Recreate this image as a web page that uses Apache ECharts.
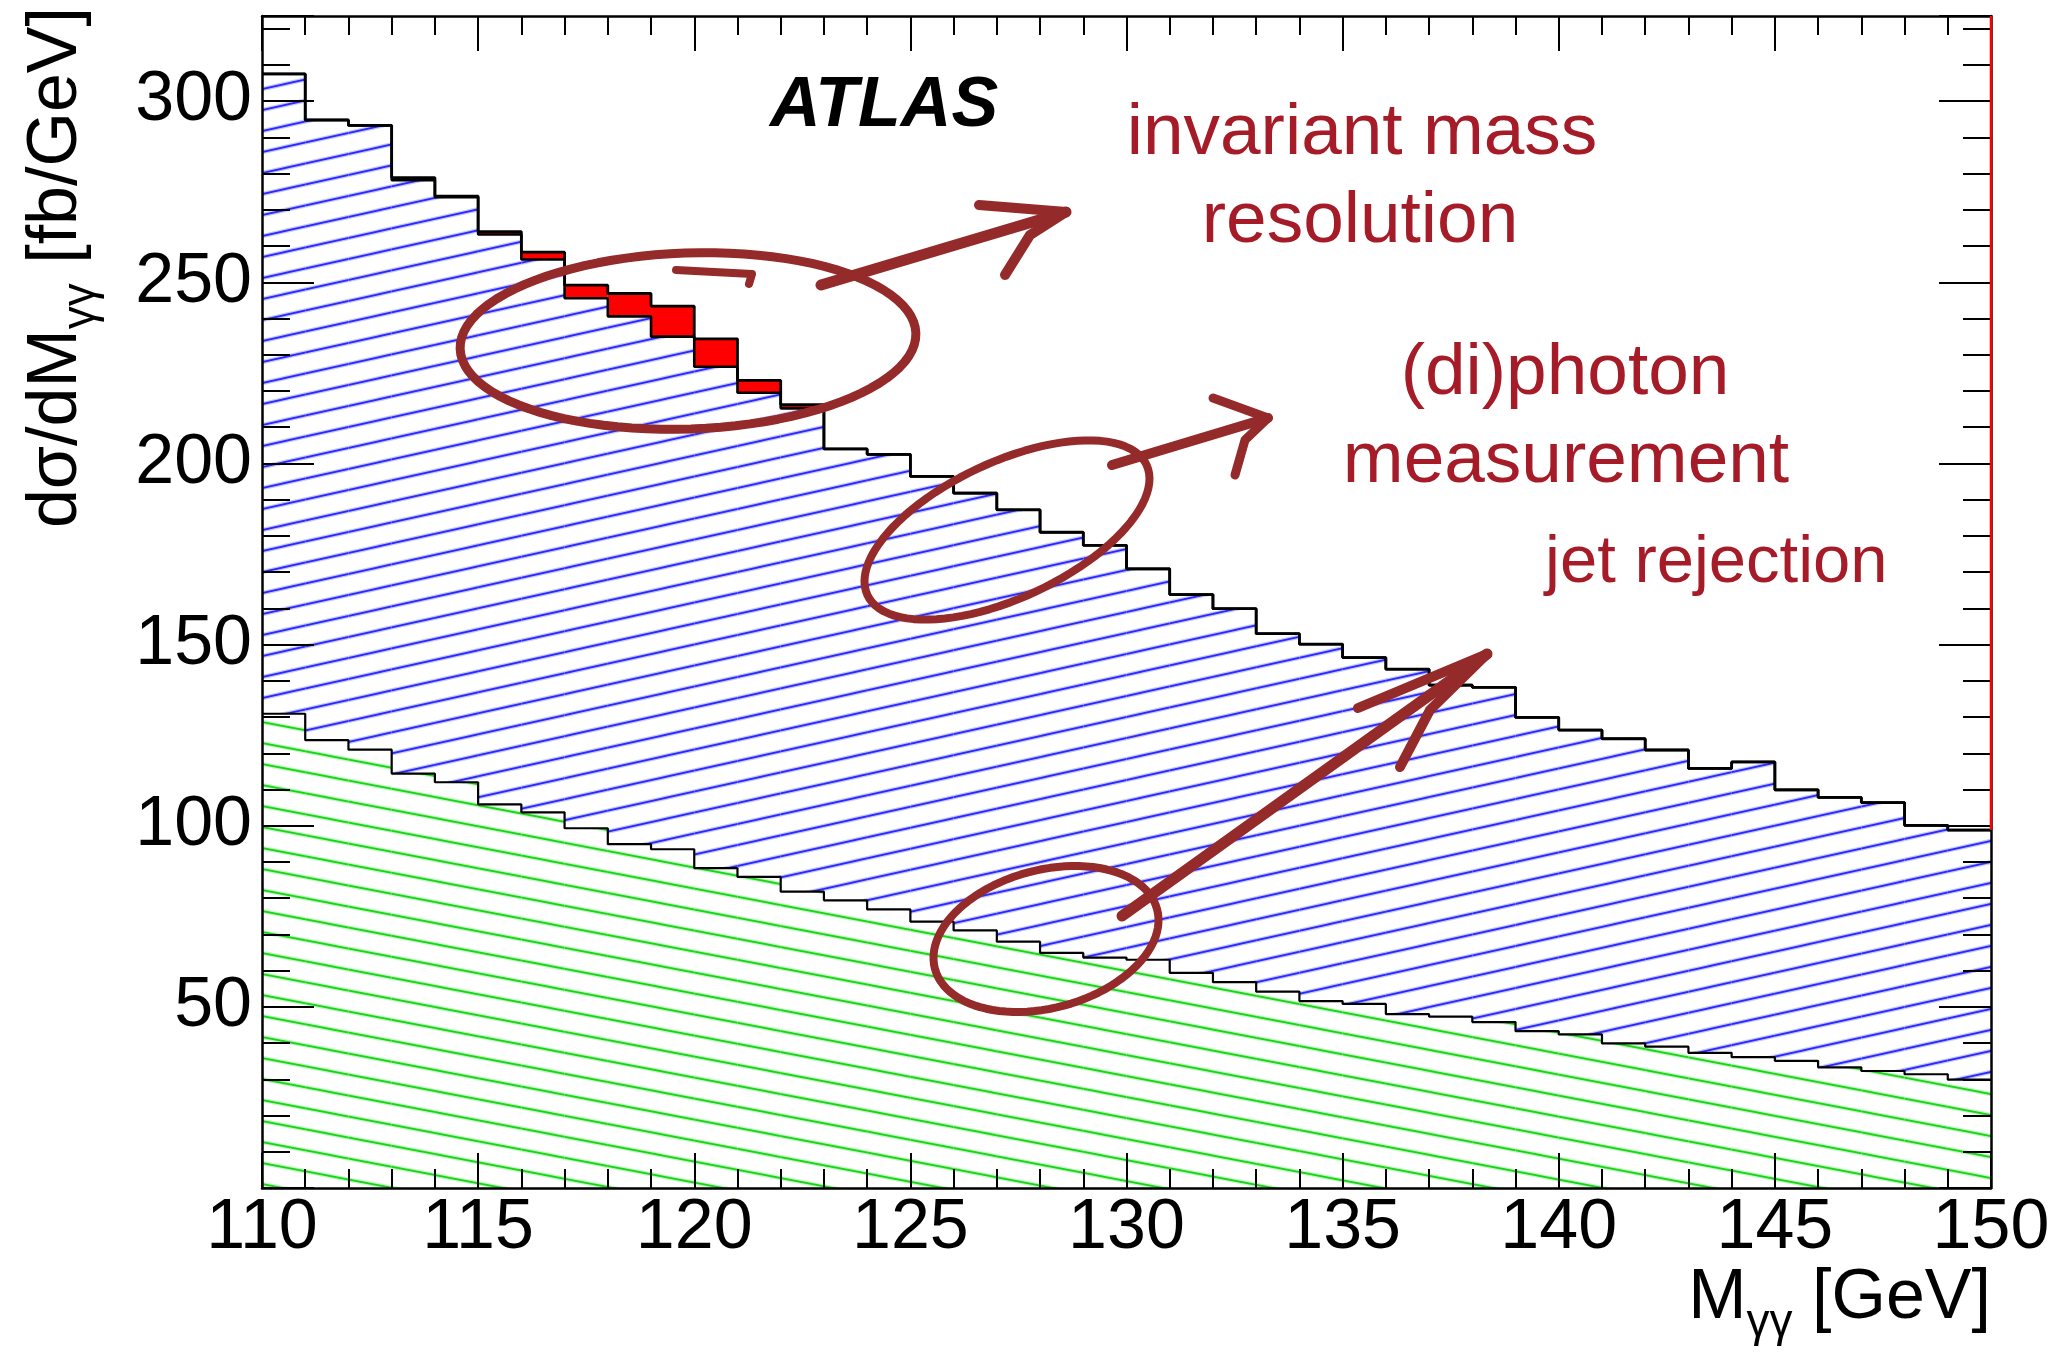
<!DOCTYPE html>
<html>
<head>
<meta charset="utf-8">
<script src="https://cdn.jsdelivr.net/npm/echarts@6/dist/echarts.min.js"></script>
<style>
html,body{margin:0;padding:0;background:#ffffff;}
#c{width:2051px;height:1352px;}
</style>
</head>
<body>
<div id="c"></div>
<script>
// ---------------- data ----------------
const binLow = [110,111,112,113,114,115,116,117,118,119,120,121,122,123,124,125,126,127,128,129,
                130,131,132,133,134,135,136,137,138,139,140,141,142,143,144,145,146,147,148,149];
const binWidth = 1;
// reducible background (green hatched), fb/GeV
const reducible = [130.9,123.6,121.0,114.4,112.0,105.9,103.7,99.3,94.9,93.5,
                   88.3,85.9,81.8,79.4,76.9,73.5,71.1,68.0,64.9,63.6,
                   63.0,59.4,56.8,54.2,51.6,50.8,48.0,47.3,45.8,43.3,
                   42.4,39.9,39.0,37.3,36.1,35.1,33.3,32.3,31.4,29.9];
// irreducible diphoton (blue hatched), stacked on reducible
const irreducible = [176.6,171.2,172.3,163.8,161.5,157.3,152.6,146.3,145.7,141.5,
                     138.4,133.6,133.4,124.6,125.6,122.9,120.7,119.2,116.1,113.8,
                     107.9,104.4,103.1,98.8,98.5,95.6,95.2,91.5,92.4,86.6,
                     84.0,84.1,81.9,78.5,81.5,74.8,74.5,74.1,68.7,68.9];
// signal (red), stacked on top
const signal = [0,0,0,0.7,0.3,0.8,2.0,3.6,6.3,8.4,
                7.7,3.4,1.0,0,0,0,0,0,0,0,
                0,0,0,0,0,0,0,0,0,0,
                0,0,0,0,0,0,0,0,0,0];
const xRange = [110, 150];
const yRange = [0, 323.5];
const xTickStep = 5;
const yTickStep = 50;

// ---------------- derived stacks ----------------
const blueTop = reducible.map((v, i) => v + irreducible[i]);
const total = blueTop.map((v, i) => v + signal[i]);

function bars(lowArr, highArr) {
  return binLow.map((x, i) => [x, x + binWidth, lowArr[i], highArr[i]]);
}
function steps(arr) {
  const d = binLow.map((x, i) => [x, arr[i]]);
  d.push([binLow[binLow.length - 1] + binWidth, arr[arr.length - 1]]);
  return d;
}

// ---------------- hatch patterns ----------------
function hatch(core, halo, up, d, W) {
  const c = document.createElement('canvas');
  c.width = W; c.height = d;
  const g = c.getContext('2d');
  function draw(style, lw) {
    g.strokeStyle = style; g.lineWidth = lw; g.lineCap = 'butt';
    for (let k = -1; k <= 1; k++) {
      g.beginPath();
      if (up) { g.moveTo(-2, d + k * d + 2 * d / W); g.lineTo(W + 2, k * d - 2 * d / W); }
      else { g.moveTo(-2, k * d - 2 * d / W); g.lineTo(W + 2, d + k * d + 2 * d / W); }
      g.stroke();
    }
  }
  draw(halo, 4.2);
  draw(core, 1.8);
  return c;
}
const bluePattern = { image: hatch('#2a2aff', 'rgba(150,150,255,0.55)', true, 21, 95), repeat: 'repeat' };
const greenPattern = { image: hatch('#19d419', 'rgba(140,240,140,0.55)', false, 21, 110), repeat: 'repeat' };

function rectRender(fill) {
  return function (params, api) {
    const a = api.coord([api.value(0), api.value(3)]);
    const b = api.coord([api.value(1), api.value(2)]);
    return {
      type: 'rect',
      shape: { x: a[0], y: a[1], width: b[0] - a[0], height: b[1] - a[1] },
      style: { fill: fill, stroke: null }
    };
  };
}

const FONT = "'Liberation Sans', Arial, Helvetica, sans-serif";
const annoStroke = '#942a29';
const annoText = '#a51b27';

function xAx(pos, showLabel) {
  return {
    type: 'value', position: pos, min: xRange[0], max: xRange[1], interval: xTickStep, z: 8,
    axisLine: { show: true, onZero: false, lineStyle: { color: '#000', width: 2.5 } },
    axisTick: { show: true, inside: true, length: 35, lineStyle: { color: '#000', width: 2 } },
    minorTick: { show: true, splitNumber: 5, length: 19, lineStyle: { color: '#000', width: 2 } },
    splitLine: { show: false }, minorSplitLine: { show: false },
    axisLabel: { show: showLabel, color: '#000', fontSize: 70, fontFamily: FONT, margin: 6,
                 showMinLabel: true, showMaxLabel: true }
  };
}
function yAx(pos, showLabel) {
  return {
    type: 'value', position: pos, min: yRange[0], max: yRange[1], interval: yTickStep, z: 8,
    axisLine: { show: true, onZero: false, lineStyle: { color: '#000', width: 2.5 } },
    axisTick: { show: true, inside: true, length: 52, lineStyle: { color: '#000', width: 2 } },
    minorTick: { show: true, splitNumber: 5, length: 28, lineStyle: { color: '#000', width: 2 } },
    splitLine: { show: false }, minorSplitLine: { show: false },
    axisLabel: { show: showLabel, color: '#000', fontSize: 70, fontFamily: FONT, margin: 10,
                 formatter: v => (v === 0 || v % yTickStep !== 0) ? '' : String(v) }
  };
}

// ---------------- annotation helpers (pixel layout) ----------------
function ellipsePts(cx, cy, rx, ry, rotDeg) {
  const p = [], f = rotDeg * Math.PI / 180;
  for (let k = 0; k <= 96; k++) {
    const t = k / 96 * 2 * Math.PI;
    const x = rx * Math.cos(t), y = ry * Math.sin(t);
    p.push([cx + x * Math.cos(f) - y * Math.sin(f), cy + x * Math.sin(f) + y * Math.cos(f)]);
  }
  return p;
}
function stroke(points, w) {
  return { type: 'polyline', z: 100, shape: { points: points },
           style: { stroke: annoStroke, lineWidth: w, fill: null, lineCap: 'round', lineJoin: 'round' } };
}
function txt(str, x, baseline, fs, align, color, fontStyle, fontWeight) {
  return { type: 'text', z: 100, x: x, y: baseline - 0.3465 * fs,
           style: { text: str, fill: color, fontSize: fs, fontFamily: FONT,
                    fontStyle: fontStyle || 'normal', fontWeight: fontWeight || 'normal',
                    align: align, verticalAlign: 'middle' } };
}
const titleRich = {
  m: { fontSize: 70, fontFamily: FONT, fill: '#000', lineHeight: 96, verticalAlign: 'middle' },
  s: { fontSize: 46, fontFamily: FONT, fill: '#000', lineHeight: 46, verticalAlign: 'bottom' }
};

const graphics = [
  // axis titles
  { type: 'text', z: 100, x: 1991, y: 1323 - 72.3,
    style: { text: '{m|M}{s|γγ}{m| [GeV]}', rich: titleRich, align: 'right', verticalAlign: 'top' } },
  { type: 'text', z: 100, x: 81 - 72.3, y: 7, rotation: Math.PI / 2,
    style: { text: '{m|dσ/dM}{s|γγ}{m| [fb/GeV]}', rich: titleRich, align: 'right', verticalAlign: 'top' } },
  // ATLAS label
  txt('ATLAS', 770, 131, 70, 'left', '#000', 'italic', 'bold'),
  // annotation texts
  txt('invariant mass', 1362, 159, 73, 'center', annoText),
  txt('resolution', 1360, 247, 73, 'center', annoText),
  txt('(di)photon', 1565, 399, 73, 'center', annoText),
  txt('measurement', 1566, 487, 73, 'center', annoText),
  txt('jet rejection', 1545, 587, 67, 'left', annoText),
  // ellipses
  stroke(ellipsePts(688, 341, 228, 88, -2), 9),
  stroke(ellipsePts(1007, 530, 154, 68, -25), 8),
  stroke(ellipsePts(1046, 939, 115, 69, -15), 8),
  // arrows
  stroke([[821, 285], [1066, 212]], 11),
  stroke([[979, 205], [1066, 212]], 10),
  stroke([[1005, 275], [1030, 235], [1066, 212]], 10),
  stroke([[1112, 465], [1268, 418]], 10),
  stroke([[1213, 398], [1268, 418]], 9),
  stroke([[1235, 475], [1245, 440], [1268, 418]], 9),
  stroke([[1122, 916], [1487, 654]], 11),
  stroke([[1358, 708], [1487, 654]], 10),
  stroke([[1400, 767], [1430, 710], [1487, 654]], 10),
  // small hook of first loop
  stroke([[676, 270], [752, 274], [749, 284]], 8)
];

const chart = echarts.init(document.getElementById('c'), null, { renderer: 'canvas', width: 2051, height: 1352 });
chart.setOption({
  animation: false,
  backgroundColor: '#ffffff',
  grid: { left: 262, right: 60, top: 16, bottom: 164, containLabel: false, outerBoundsMode: 'none' },
  xAxis: [xAx('bottom', true), xAx('top', false)],
  yAxis: [yAx('left', true), yAx('right', false)],
  series: [
    { type: 'custom', name: 'reducible', renderItem: rectRender(greenPattern), data: bars(reducible.map(() => 0), reducible),
      xAxisIndex: 0, yAxisIndex: 0, clip: true, z: 2, silent: true, encode: { x: [0, 1], y: [2, 3] } },
    { type: 'custom', name: 'irreducible', renderItem: rectRender(bluePattern), data: bars(reducible, blueTop),
      xAxisIndex: 0, yAxisIndex: 0, clip: true, z: 2, silent: true, encode: { x: [0, 1], y: [2, 3] } },
    { type: 'custom', name: 'signal', renderItem: rectRender('#ff0000'), data: bars(blueTop, total),
      xAxisIndex: 0, yAxisIndex: 0, clip: true, z: 3, silent: true, encode: { x: [0, 1], y: [2, 3] } },
    { type: 'line', name: 'reducible outline', data: steps(reducible), step: 'end', symbol: 'none',
      lineStyle: { color: '#000', width: 2.2 }, z: 4, silent: true },
    { type: 'line', name: 'background outline', data: steps(blueTop), step: 'end', symbol: 'none',
      lineStyle: { color: '#000', width: 2.6 }, z: 4, silent: true },
    { type: 'line', name: 'total outline', data: steps(total), step: 'end', symbol: 'none',
      lineStyle: { color: '#000', width: 2.8 }, z: 5, silent: true },
    { type: 'line', name: 'edge', data: [[xRange[1], yRange[1]], [xRange[1], total[total.length - 1]]],
      symbol: 'none', lineStyle: { color: '#ff0000', width: 2.5 }, z: 20, zlevel: 0, clip: false, silent: true }
  ],
  graphic: graphics
});
</script>
</body>
</html>
